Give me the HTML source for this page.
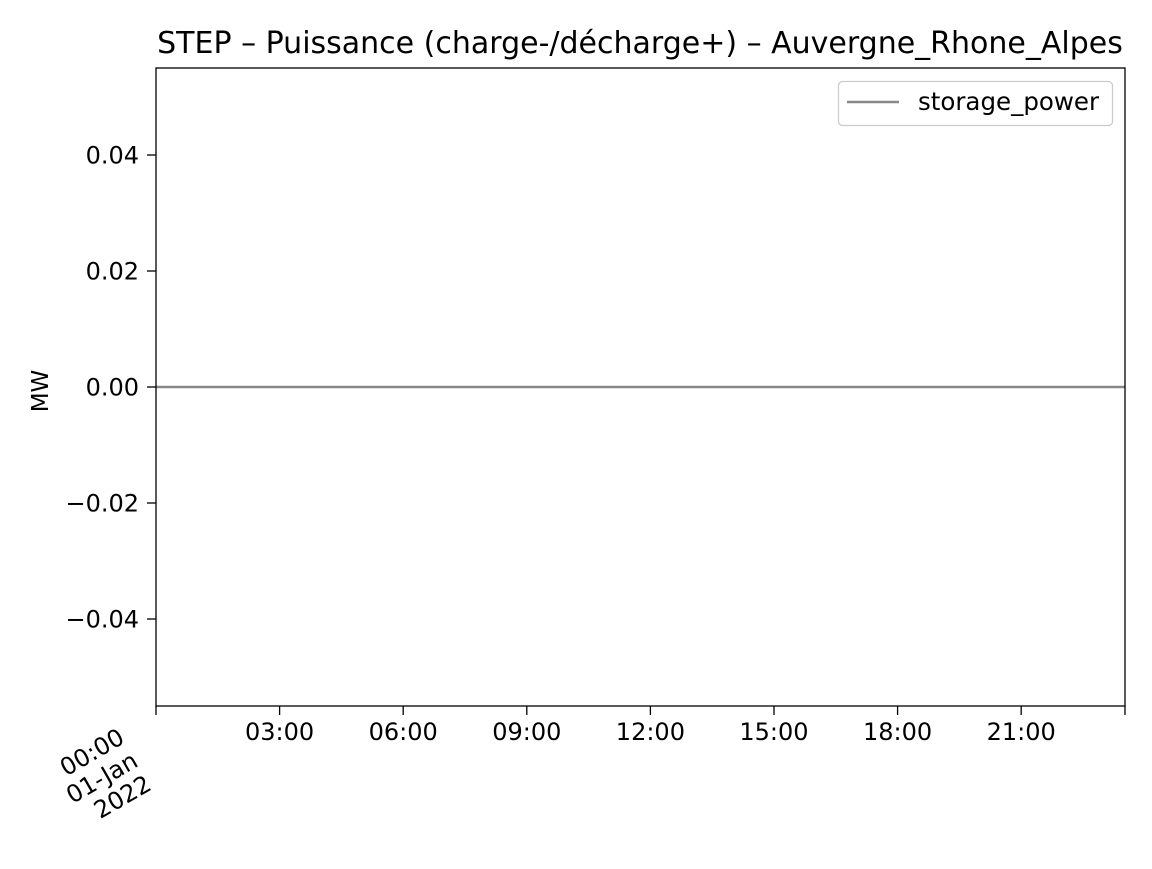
<!DOCTYPE html>
<html><head><meta charset="utf-8"><style>
html,body{margin:0;padding:0;background:#fff;}
svg text{font-family:"DejaVu Sans","Liberation Sans",sans-serif;fill:#000;}
</style></head><body>
<svg id="chart" width="1152" height="864" xmlns="http://www.w3.org/2000/svg">
<rect width="1152" height="864" fill="#fff"/>
<text x="640" y="53" font-size="30" text-anchor="middle">STEP – Puissance (charge-/décharge+) – Auvergne_Rhone_Alpes</text>
<text transform="translate(48,391) rotate(-90)" font-size="23" text-anchor="middle">MW</text>
<g id="yticks"></g><g id="xticks"></g><g id="series"></g>
<rect x="156" y="68" width="969" height="638" fill="none" stroke="#000" stroke-width="1.3"/>
<g>
<rect x="838.5" y="81.5" width="274" height="44" rx="4" fill="#fff" stroke="#ccc" stroke-width="1.3"/>
<line x1="847" y1="102" x2="899" y2="102" stroke="#888" stroke-width="2.5"/>
<text x="918" y="110" font-size="24.5">storage_power</text>
</g>
</svg>
<script>
const hours=[0,1,2,3,4,5,6,7,8,9,10,11,12,13,14,15,16,17,18,19,20,21,22,23];
const storagePower=[0,0,0,0,0,0,0,0,0,0,0,0,0,0,0,0,0,0,0,0,0,0,0,0];
const yTicks=[-0.04,-0.02,0,0.02,0.04];
const yTickLabels=["−0.04","−0.02","0.00","0.02","0.04"];
const xTicks=[3,6,9,12,15,18,21];
const xTickLabels=["03:00","06:00","09:00","12:00","15:00","18:00","21:00"];
const NS="http://www.w3.org/2000/svg";
const x=h=>156+(h/23.52)*969;
const y=v=>387-v*5800;
function mk(t,a,p){const e=document.createElementNS(NS,t);for(const k in a)e.setAttribute(k,a[k]);p.appendChild(e);return e;}
const yg=document.getElementById('yticks');
yTicks.forEach((v,i)=>{
 const l=mk('line',{x1:147,x2:156,y1:y(v),y2:y(v),stroke:'#000','stroke-width':1.3},yg);
 
 
 const t=mk('text',{x:139,y:y(v)+8.5,'font-size':24,'text-anchor':'end'},yg);
 t.textContent=yTickLabels[i];
 
 
});
const xg=document.getElementById('xticks');
[0].concat(xTicks).forEach(h=>{
 const l=mk('line',{x1:x(h),x2:x(h),y1:706,y2:715,stroke:'#000','stroke-width':1.3},xg);
 
 
});
const le=mk('line',{x1:1125,x2:1125,y1:706,y2:715,stroke:'#000','stroke-width':1.3},xg);


xTicks.forEach((h,i)=>{
 const t=mk('text',{x:x(h),y:740,'font-size':24,'text-anchor':'middle'},xg);
 t.textContent=xTickLabels[i];
 
 
});
const ft=mk('text',{transform:'translate(126,742) rotate(-30)','font-size':24,'text-anchor':'end'},xg);


["00:00","01-Jan","2022"].forEach((s,i)=>{const ts=mk('tspan',{x:0,dy:i?27:0},ft);ts.textContent=s;});
const sg=document.getElementById('series');
const pl=mk('polyline',{points:hours.map((h,i)=>x(h)+','+y(storagePower[i])).join(' ')+' 1125,'+y(storagePower[storagePower.length-1]),fill:'none',stroke:'#888','stroke-width':2.5},sg);


</script>
</body></html>
